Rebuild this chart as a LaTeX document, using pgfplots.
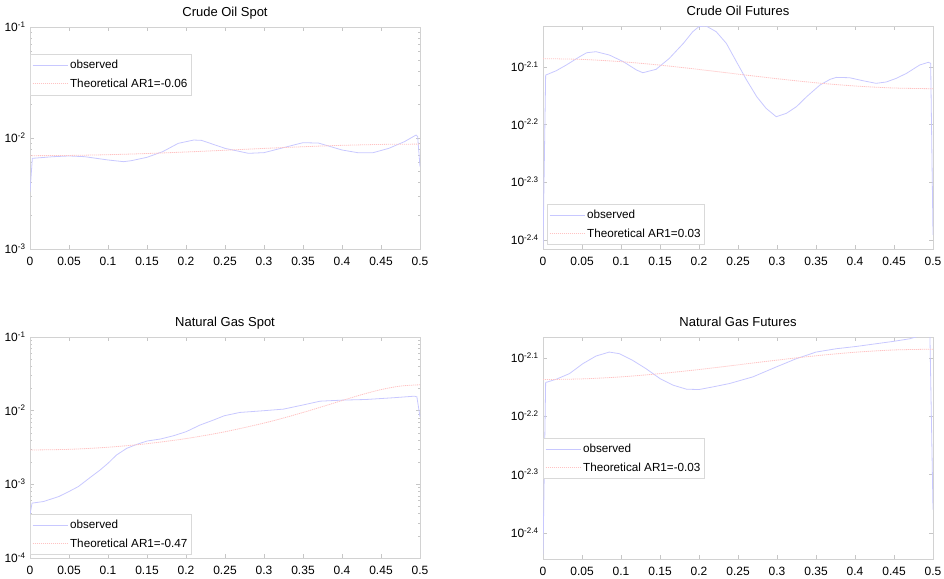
\documentclass[border=0pt]{standalone}
\usepackage{pgfplots}
\pgfplotsset{compat=1.18}
\usepackage{fontspec}
\setmainfont{Liberation Sans}
\definecolor{obs}{RGB}{200,200,255}
\definecolor{theo}{RGB}{255,195,195}

\pgfplotsset{
  panel/.style={
    scale only axis, width=390pt, height=222pt,
    xmin=0, xmax=0.5,
    xtick={0,0.05,0.1,0.15,0.2,0.25,0.3,0.35,0.4,0.45,0.5},
    xticklabels={0,0.05,0.1,0.15,0.2,0.25,0.3,0.35,0.4,0.45,0.5},
    tick align=inside, major tick length=4pt, minor tick length=2pt,
    tick style={gray!45, line width=0.5pt},
    axis line style={gray!35, line width=0.6pt},
    ticklabel style={font=\fontsize{12}{14}\selectfont, text=black},
    xticklabel style={anchor=base, yshift=-16.5pt},
    yticklabel style={anchor=base east, yshift=-4.5pt, xshift=-1pt},
    title style={font=\fontsize{13}{15}\selectfont, at={(0.5,1)}, anchor=base, yshift=5pt},
    legend cell align=left,
    legend image code/.code={\draw[##1] (4pt,0pt) -- (39pt,0pt);},
    legend style={draw=gray!30, line width=0.6pt, fill=white,
      font=\fontsize{11.7}{13}\selectfont, inner xsep=2pt, inner ysep=4pt,
      row sep=4.5pt, nodes={inner sep=2pt}},
  },
  obsline/.style={color=obs, line width=0.8pt},
  theoline/.style={color=theo, line width=0.8pt, dash pattern=on 1.2pt off 0.8pt, smooth},
}

\begin{document}
\begin{tikzpicture}
\useasboundingbox (0,0) rectangle (944pt,-578pt);

% ---------------- Crude Oil Spot ----------------
\begin{semilogyaxis}[panel, at={(30pt,-249pt)}, anchor=south west,
  title={Crude Oil Spot},
  ymin=1e-3, ymax=1e-1,
  ytick={1e-3,1e-2,1e-1},
  yticklabels={10\textsuperscript{-3},10\textsuperscript{-2},10\textsuperscript{-1}},
  legend style={at={(0,0.878)}, anchor=north west}]
\addplot[obsline] coordinates {
(0,3.28e-3)(0.003,6.56e-3)(0.03,6.79e-3)(0.05,6.89e-3)(0.07,6.79e-3)
(0.1,6.34e-3)(0.12,6.12e-3)(0.13,6.25e-3)(0.15,6.70e-3)(0.17,7.53e-3)
(0.19,8.95e-3)(0.21,9.59e-3)(0.22,9.52e-3)(0.25,8.07e-3)(0.28,7.28e-3)
(0.3,7.38e-3)(0.33,8.36e-3)(0.35,9.08e-3)(0.37,9.00e-3)(0.4,7.80e-3)
(0.42,7.38e-3)(0.44,7.38e-3)(0.46,8.07e-3)(0.48,9.27e-3)(0.495,1.064e-2)
(0.497,1.03e-2)(0.5,5.52e-3)};
\addlegendentry{observed}
\addplot[theoline] coordinates {
(0,6.93e-3)(0.05,6.967e-3)(0.1,7.075e-3)(0.15,7.25e-3)(0.2,7.483e-3)
(0.25,7.759e-3)(0.3,8.057e-3)(0.35,8.345e-3)(0.4,8.59e-3)(0.45,8.754e-3)
(0.5,8.813e-3)};
\addlegendentry{Theoretical AR1=-0.06}
\end{semilogyaxis}

% ---------------- Crude Oil Futures ----------------
\begin{semilogyaxis}[panel, at={(543pt,-249pt)}, anchor=south west, height=223pt,
  title={Crude Oil Futures},
  ymin=3.841e-3, ymax=9.354e-3, yminorticks=false,
  ytick={3.981e-3,5.012e-3,6.310e-3,7.943e-3},
  yticklabels={10\textsuperscript{-2.4},10\textsuperscript{-2.3},10\textsuperscript{-2.2},10\textsuperscript{-2.1}},
  legend style={at={(0.0103,0.018)}, anchor=south west}]
\addplot[obsline] coordinates {
(0,3.85e-3)(0.0034,7.69e-3)(0.017,7.826e-3)(0.03,8.007e-3)(0.047,8.276e-3)
(0.056,8.408e-3)(0.068,8.443e-3)(0.085,8.332e-3)(0.103,8.112e-3)(0.12,7.847e-3)
(0.128,7.764e-3)(0.145,7.87e-3)(0.162,8.222e-3)(0.18,8.73e-3)(0.192,9.145e-3)
(0.2,9.333e-3)(0.209,9.357e-3)(0.222,9.145e-3)(0.235,8.73e-3)(0.248,8.112e-3)
(0.261,7.541e-3)(0.274,7.055e-3)(0.286,6.734e-3)(0.299,6.513e-3)(0.312,6.601e-3)
(0.325,6.78e-3)(0.338,7.055e-3)(0.355,7.391e-3)(0.368,7.56e-3)(0.376,7.621e-3)
(0.393,7.61e-3)(0.41,7.52e-3)(0.427,7.441e-3)(0.44,7.481e-3)(0.453,7.592e-3)
(0.466,7.744e-3)(0.483,8.007e-3)(0.494,8.092e-3)(0.497,8.06e-3)(0.5,4.064e-3)};
\addlegendentry{observed}
\addplot[theoline] coordinates {
(0,8.212e-3)(0.05,8.187e-3)(0.1,8.113e-3)(0.15,8.002e-3)(0.2,7.866e-3)
(0.25,7.72e-3)(0.3,7.58e-3)(0.35,7.457e-3)(0.4,7.363e-3)(0.45,7.304e-3)
(0.5,7.283e-3)};
\addlegendentry{Theoretical AR1=0.03}
\end{semilogyaxis}

% ---------------- Natural Gas Spot ----------------
\begin{semilogyaxis}[panel, at={(30pt,-558pt)}, anchor=south west, height=221pt,
  title={Natural Gas Spot},
  ymin=1e-4, ymax=1e-1,
  ytick={1e-4,1e-3,1e-2,1e-1},
  yticklabels={10\textsuperscript{-4},10\textsuperscript{-3},10\textsuperscript{-2},10\textsuperscript{-1}},
  legend style={at={(0,0.0136)}, anchor=south west}]
\addplot[obsline] coordinates {
(0,3.86e-4)(0.0026,5.56e-4)(0.0175,5.85e-4)(0.037,6.84e-4)(0.05,8.0e-4)
(0.062,9.33e-4)(0.077,1.236e-3)(0.09,1.57e-3)(0.1,1.932e-3)(0.111,2.506e-3)
(0.124,3.083e-3)(0.137,3.491e-3)(0.15,3.873e-3)(0.167,4.121e-3)(0.184,4.571e-3)
(0.2,5.176e-3)(0.218,6.383e-3)(0.235,7.447e-3)(0.249,8.531e-3)(0.269,9.462e-3)
(0.299,9.977e-3)(0.325,1.05e-2)(0.349,1.189e-2)(0.372,1.346e-2)(0.4,1.39e-2)
(0.431,1.419e-2)(0.465,1.496e-2)(0.493,1.574e-2)(0.496,1.54e-2)(0.5,8.26e-3)};
\addlegendentry{observed}
\addplot[theoline] coordinates {
(0,2.924e-3)(0.05,2.987e-3)(0.1,3.189e-3)(0.15,3.563e-3)(0.2,4.18e-3)
(0.25,5.175e-3)(0.3,6.791e-3)(0.325,7.956e-3)(0.35,9.452e-3)(0.375,1.136e-2)
(0.4,1.3723e-2)(0.425,1.648e-2)(0.45,1.9327e-2)(0.475,2.16e-2)(0.5,2.2492e-2)};
\addlegendentry{Theoretical AR1=-0.47}
\end{semilogyaxis}

% ---------------- Natural Gas Futures ----------------
\begin{semilogyaxis}[panel, at={(543pt,-559pt)}, anchor=south west,
  title={Natural Gas Futures},
  ymin=3.591e-3, ymax=8.630e-3, yminorticks=false,
  ytick={3.981e-3,5.012e-3,6.310e-3,7.943e-3},
  yticklabels={10\textsuperscript{-2.4},10\textsuperscript{-2.3},10\textsuperscript{-2.2},10\textsuperscript{-2.1}},
  legend style={at={(0,0.545)}, anchor=north west}]
\addplot[obsline] coordinates {
(0,3.656e-3)(0.0034,7.211e-3)(0.017,7.305e-3)(0.034,7.47e-3)(0.051,7.768e-3)
(0.068,8.006e-3)(0.085,8.132e-3)(0.098,8.08e-3)(0.115,7.87e-3)(0.132,7.617e-3)
(0.15,7.324e-3)(0.167,7.134e-3)(0.184,7.023e-3)(0.2,7.014e-3)(0.218,7.088e-3)
(0.239,7.182e-3)(0.269,7.373e-3)(0.299,7.668e-3)(0.325,7.925e-3)(0.35,8.132e-3)
(0.376,8.24e-3)(0.402,8.316e-3)(0.427,8.404e-3)(0.449,8.482e-3)(0.47,8.57e-3)
(0.483,8.67e-3)(0.496,8.75e-3)(0.5,4.365e-3)};
\addlegendentry{observed}
\addplot[theoline] coordinates {
(0,7.295e-3)(0.05,7.315e-3)(0.1,7.374e-3)(0.15,7.469e-3)(0.2,7.591e-3)
(0.25,7.732e-3)(0.3,7.878e-3)(0.35,8.014e-3)(0.4,8.126e-3)(0.45,8.2e-3)
(0.5,8.225e-3)};
\addlegendentry{Theoretical AR1=-0.03}
\end{semilogyaxis}
\end{tikzpicture}
\end{document}
